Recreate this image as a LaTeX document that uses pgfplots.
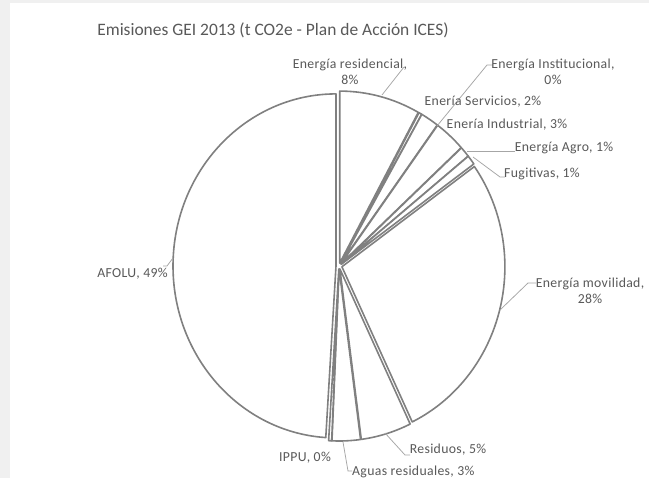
\documentclass[border=0pt]{standalone}
\usepackage{pgfplots}
\usepackage{pgfplotstable}
\usepackage{fontspec}
\setmainfont{Carlito}
\newfontfamily\labfont[LetterSpace=2.5]{Carlito}
\pgfplotsset{compat=1.18}
\definecolor{txt}{HTML}{595959}
\definecolor{edge}{HTML}{808080}
\definecolor{lead}{HTML}{A6A6A6}
\definecolor{frame}{HTML}{F0F0F0}
\tikzset{lab/.style={text=txt, inner sep=0pt, font=\labfont\fontsize{13.8}{16.5}\selectfont, align=center}}

\pgfplotstableread{
name pct
Residencial 8.0
Institucional 0.3
Servicios 1.8
Industrial 3.1
Agro 1.0
Fugitivas 0.9
Movilidad 27.8
Residuos 5.0
Aguas 2.8
IPPU 0.3
AFOLU 49.0
}\piedata

\begin{document}
\begin{tikzpicture}
\begin{axis}[
  x=1bp, y=1bp, xmin=0, xmax=649, ymin=0, ymax=478, y dir=reverse,
  hide axis, clip=false,
]
\pgfplotsextra{
  \fill[white] (axis cs:0,0) rectangle (axis cs:649,478);
  \fill[frame] (axis cs:0,0) rectangle (axis cs:10,478);
  \fill[frame] (axis cs:0,0) rectangle (axis cs:649,3.5);
  \xdef\cumpct{0}
  \pgfplotstablegetrowsof{\piedata}
  \pgfmathtruncatemacro{\lastrow}{\pgfplotsretval-1}
  \foreach \i in {0,...,\lastrow}{
    \pgfplotstablegetelem{\i}{pct}\of{\piedata}
    \pgfmathsetmacro{\aS}{90-3.6*\cumpct}
    \pgfmathsetmacro{\aE}{90-3.6*(\cumpct+\pgfplotsretval)}
    \pgfmathsetmacro{\aM}{(\aS+\aE)/2}
    \pgfmathsetmacro{\newcum}{\cumpct+\pgfplotsretval}
    \xdef\cumpct{\newcum}
    \filldraw[fill=white, draw=edge, line width=1.6bp, line join=round]
      ([shift={(\aM:3bp)}]axis cs:339,266) -- ++(\aS:163bp and 172bp)
      arc[start angle=\aS, end angle=\aE, x radius=163bp, y radius=172bp] -- cycle;
  }
  % leader lines
  \begin{scope}[draw=lead, line width=0.75bp]
  \draw (axis cs:404,67) -- (axis cs:382,95);
  \draw (axis cs:493,65) -- (axis cs:487,65) -- (axis cs:437,126);
  \draw (axis cs:515,151) -- (axis cs:467,151);
  \draw (axis cs:505,177) -- (axis cs:500,177) -- (axis cs:473,157);
  \draw (axis cs:536,283) -- (axis cs:528,283) -- (axis cs:500,310);
  \draw (axis cs:410,455) -- (axis cs:405,455) -- (axis cs:385,433);
  \draw (axis cs:352,471) -- (axis cs:348,471) -- (axis cs:343,442);
  \draw (axis cs:163,266) -- (axis cs:167,266) -- (axis cs:173,258);
  \end{scope}
}
\node[text=txt, inner sep=0pt, font=\fontsize{17.5}{20}\selectfont] at (axis cs:273,30) {Emisiones GEI 2013 (t CO2e - Plan de Acción ICES)};
\node[lab] at (axis cs:350,72) {Energía residencial,\\8\%};
\node[lab] at (axis cs:553,72) {Energía Institucional,\\0\%};
\node[lab] at (axis cs:483,102) {Enería Servicios, 2\%};
\node[lab] at (axis cs:507,125) {Enería Industrial, 3\%};
\node[lab] at (axis cs:564,148) {Energía Agro, 1\%};
\node[lab] at (axis cs:542,174) {Fugitivas, 1\%};
\node[lab] at (axis cs:590,291) {Energía movilidad,\\28\%};
\node[lab] at (axis cs:448,450) {Residuos, 5\%};
\node[lab, anchor=west] at (axis cs:352,472) {Aguas residuales, 3\%};
\node[lab] at (axis cs:305,458) {IPPU, 0\%};
\node[lab, anchor=east] at (axis cs:168,274) {AFOLU, 49\%};
\end{axis}
\end{tikzpicture}
\end{document}
